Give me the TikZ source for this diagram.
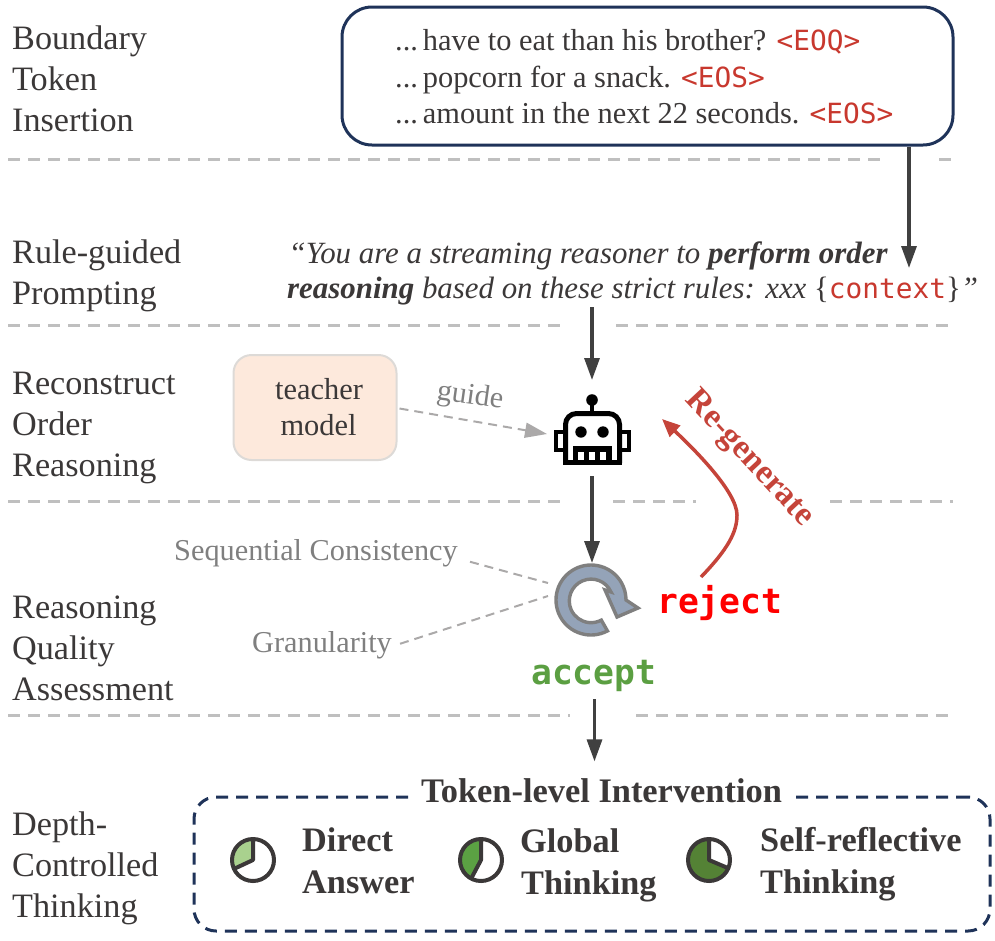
\documentclass[tikz,border=0pt]{standalone}
\usepackage{fontspec}
\setmainfont{Liberation Serif}
\setmonofont{DejaVu Sans Mono}
\usetikzlibrary{arrows.meta,calc}
\definecolor{ink}{HTML}{3B3838}
\definecolor{flowink}{HTML}{404040}
\definecolor{navy}{HTML}{1F3359}
\definecolor{sep}{HTML}{BFBFBF}
\definecolor{soft}{HTML}{7F7F7F}
\definecolor{softline}{HTML}{ABA9A9}
\definecolor{tok}{HTML}{C8382E}
\definecolor{regen}{HTML}{C5443A}
\definecolor{okgreen}{HTML}{5B9F42}
\definecolor{ringfill}{HTML}{94A3B8}
\definecolor{ringline}{HTML}{7F7F7F}
\definecolor{teacherfill}{HTML}{FDE9DC}
\definecolor{teacherline}{HTML}{DDDAD7}
\definecolor{pieone}{HTML}{A9D18E}
\definecolor{pietwo}{HTML}{5BA143}
\definecolor{piethree}{HTML}{548235}
\newcommand{\tk}[1]{{\fontsize{27.8}{30}\selectfont\ttfamily\color{tok}#1}}
\newcommand{\dotsgap}{...\hspace{0.16em}}
\tikzset{
  x=1pt,y=1pt,
  lab/.style={anchor=base west,inner sep=0,align=left,text=ink,font=\fontsize{34.2}{41}\selectfont},
  body/.style={anchor=base west,inner sep=0,text=ink,font=\fontsize{30.4}{35}\selectfont},
  promptline/.style={anchor=base west,inner sep=0,text=ink,font=\fontsize{30.9}{35}\selectfont},
  septr/.style={draw=sep,line width=3pt,dash pattern=on 12pt off 8pt},
  flow/.style={draw=flowink,line width=3.2pt,-{Triangle[length=22pt,width=15pt]}},
  softdash/.style={draw=softline,line width=2pt,dash pattern=on 9pt off 6pt},
  softlab/.style={anchor=base west,inner sep=0,text=soft,font=\fontsize{30.3}{34}\selectfont},
  ghost/.style={inner sep=0,outer sep=0,draw=none},
  choice/.style={anchor=base west,inner sep=0,text=ink,font=\fontsize{34.3}{42}\selectfont\bfseries},
  pieline/.style={draw=ink,line width=4pt,line join=round},
  mono/.style={anchor=base west,inner sep=0,font=\fontsize{34.6}{40}\selectfont\ttfamily\bfseries},
}
\begin{document}
\begin{tikzpicture}
\useasboundingbox (0,0) rectangle (995,-940);
% separators
\draw[septr] (8,-159) -- (886,-159);
\draw[septr] (939,-159) -- (953,-159);
\draw[septr] (8,-325) -- (563,-325);
\draw[septr] (616,-325) -- (953,-325);
\draw[septr] (8,-501) -- (560,-501);
\draw[septr] (613,-501) -- (696,-501);
\draw[septr] (830,-501) -- (953,-501);
\draw[septr] (8,-715) -- (570,-715);
\draw[septr] (636,-715) -- (953,-715);
% left labels
\node[lab] (l1a) at (12,-49) {Boundary};
\node[lab] (l1b) at (12,-90) {Token};
\node[lab] (l1c) at (12,-131) {Insertion};
\node[lab] (l2a) at (12,-263) {Rule-guided};
\node[lab] (l2b) at (12,-304) {Prompting};
\node[lab] (l3a) at (12,-394) {Reconstruct};
\node[lab] (l3b) at (12,-435) {Order};
\node[lab] (l3c) at (12,-476) {Reasoning};
\node[lab] (l4a) at (12,-618) {Reasoning};
\node[lab] (l4b) at (12,-659) {Quality};
\node[lab] (l4c) at (12,-700) {Assessment};
\node[lab] (l5a) at (12,-835) {Depth-};
\node[lab] (l5b) at (12,-876) {Controlled};
\node[lab] (l5c) at (12,-917) {Thinking};
% input box
\node[draw=navy,line width=3pt,rounded corners=30pt,minimum width=611pt,minimum height=138pt,inner sep=0] (input) at (647.5,-76) {};
\node[body] (t1) at (395,-50) {\dotsgap have to eat than his brother? \tk{<EOQ>}};
\node[body] (t2) at (395,-87) {\dotsgap popcorn for a snack. \tk{<EOS>}};
\node[body] (t3) at (395,-123) {\dotsgap amount in the next 22 seconds. \tk{<EOS>}};
% prompt
\node[promptline] (p1) at (288.5,-263) {\itshape “You are a streaming reasoner to \textbf{perform order}};
\node[promptline] (p2) at (287,-298) {\itshape\textbf{reasoning} based on these strict rules: xxx {\upshape\{}\tk{\upshape context}{\upshape\}}”};
\coordinate (promptIn) at (909,-268);
\draw[flow] (input.south -| promptIn) -- (promptIn);
% robot
\node[ghost,minimum width=76pt,minimum height=70pt] (robot) at (592,-430) {};
\fill[black] (592,-400) circle (5.8pt);
\draw[black,line width=3.5pt] (592,-404) -- (592,-412);
\draw[black,line width=5pt,rounded corners=11pt] (565.5,-463) -- (565.5,-413.5) -- (619.5,-413.5) -- (619.5,-463);
\draw[black,line width=5pt] (563,-462.5) -- (622,-462.5);
\draw[black,line width=3.6pt] (563,-431.8) -- (555.8,-431.8) -- (555.8,-449.8) -- (563,-449.8);
\draw[black,line width=3.6pt] (622,-431.8) -- (629,-431.8) -- (629,-449.8) -- (622,-449.8);
\fill[black] (581,-432) circle (5.7pt);
\fill[black] (603,-432) circle (5.7pt);
\fill[black] (573,-446) rectangle (612,-461);
\fill[white] (578,-452) rectangle (584,-460);
\fill[white] (589,-452) rectangle (595,-460);
\fill[white] (600,-452) rectangle (606,-460);
% cycle icon
\node[ghost,minimum width=84pt,minimum height=74pt] (cycle) at (596,-600) {};
\draw[draw=ringline,fill=ringfill,line width=3.4pt,line join=miter]
  (591,-600) ++(-62:35) arc[start angle=-62,end angle=-360,radius=35pt] -- (638,-608) -- (617,-617) -- (605,-590) -- (611,-592)
  arc[start angle=24,end angle=298,radius=21.8pt] -- cycle;
% teacher
\node[draw=teacherline,fill=teacherfill,line width=2pt,rounded corners=18pt,minimum width=163pt,minimum height=105pt,inner sep=0] (teacher) at (315,-407.5) {};
\node[body,anchor=base] (te1) at (319,-399) {teacher};
\node[body,anchor=base] (te2) at (318.5,-435) {model};
\node[softlab,anchor=center,rotate=-8,font=\fontsize{30}{34}\selectfont] (guide) at (470,-397) {guide};
% prompt to robot, robot to cycle
\draw[flow] (robot.north |- 0,-307) -- ++(0,-73);
\draw[flow] (robot.south) ++(0,-11) -- (cycle.north -| robot.south);
% dashed
\draw[softdash,-{Triangle[length=22pt,width=15pt]}] ($(teacher.east)+(2,-1)$) -- ($(robot.west)+(-7,-4)$);
\node[softlab] (sc) at (174,-560) {Sequential Consistency};
\node[softlab] (gr) at (252,-652) {Granularity};
\draw[softdash] ($(sc.east)+(12,-9)$) -- ($(cycle.west)+(-6,17)$);
\draw[softdash] ($(gr.east)+(8,1)$) -- ($(cycle.west)+(-6,4)$);
% reject accept
\node[mono,text=red] (reject) at (657,-613) {reject};
\node[mono,text=okgreen] (accept) at (531,-684) {accept};
\draw[draw=regen,line width=3.5pt,-{Triangle[length=18pt,width=15pt]}] (701,-577) .. controls (728,-549) and (737,-532) .. (737,-515) .. controls (737,-492) and (695,-450) .. (662,-419);
\node[anchor=center,rotate=-47,inner sep=0,text=regen,font=\fontsize{33.5}{38}\selectfont\bfseries] (regen) at (749,-459) {Re-generate};
% intervention box
\node[draw=navy,line width=3pt,dash pattern=on 12pt off 8pt,rounded corners=22pt,minimum width=796pt,minimum height=134pt,inner sep=0] (tli) at (592,-864) {};
\node[fill=white,inner xsep=12pt,inner ysep=1pt,text=ink,font=\fontsize{34.4}{38}\selectfont\bfseries] (tlit) at (601.5,-791) {Token-level Intervention};
\draw[flow] (accept.south -| tlit.north) ++(-7,-8) -- ++(0,-62);
% pies
\fill[pieone] (253,-860) -- (253,-839) arc[start angle=90,end angle=205,radius=21pt] -- cycle;
\draw[pieline] (253,-860) circle (21pt);
\draw[pieline] (253,-838) -- (253,-860) -- ++(205:22);
\fill[pietwo] (481,-860) -- (481,-839) arc[start angle=90,end angle=242,radius=21pt] -- cycle;
\draw[pieline] (481,-860) circle (21pt);
\draw[pieline] (481,-838) -- (481,-860) -- ++(242:22);
\fill[piethree] (709,-860) -- (709,-839) arc[start angle=90,end angle=337,radius=21pt] -- cycle;
\draw[pieline] (709,-860) circle (21pt);
\draw[pieline] (709,-838) -- (709,-860) -- ++(337:22);
\node[choice] (c1a) at (302,-851) {Direct};
\node[choice] (c1b) at (302,-893) {Answer};
\node[choice] (c2a) at (520,-852) {Global};
\node[choice] (c2b) at (521,-894) {Thinking};
\node[choice] (c3a) at (760,-851) {Self-reflective};
\node[choice] (c3b) at (760,-893) {Thinking};
\end{tikzpicture}
\end{document}
